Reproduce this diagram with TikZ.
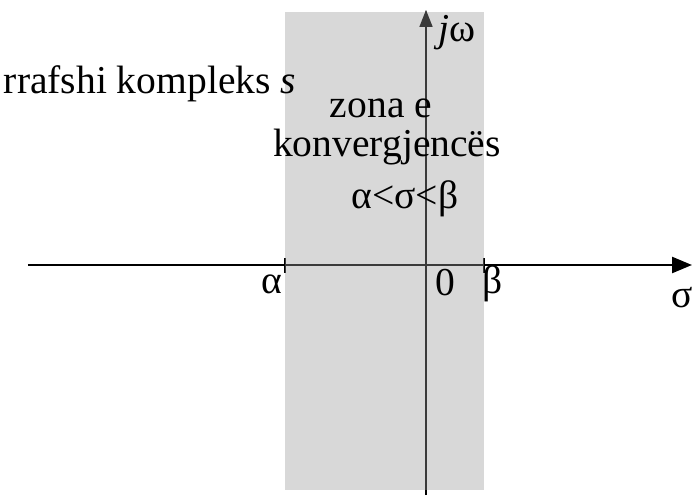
\documentclass[tikz,border=0pt]{standalone}
\usepackage{fontspec}
\setmainfont{Liberation Serif}
\usepackage{tikz}
\usetikzlibrary{arrows.meta,positioning,calc}
\definecolor{zone}{HTML}{999999}

\begin{document}
\begin{tikzpicture}[
  axe/.style={line width=1.4pt,-{Triangle[length=0.4cm,width=0.32cm]}},
  tick/.style={line width=0.8pt},
  lbl/.style={font=\fontsize{22.5}{26}\selectfont,inner sep=0pt,anchor=base}]
  \useasboundingbox (-8.52,-4.6) rectangle (5.34,5.3);
  % axes
  \coordinate (O) at (0,0);
  \coordinate (xg) at (-7.96,0);
  \coordinate (xd) at (5.32,0);
  \coordinate (yb) at (0,-4.6);
  \coordinate (yh) at (0,5.1);
  \draw[axe] (xg) -- (xd);
  \draw[axe,line width=1pt,-{Triangle[length=0.34cm,width=0.26cm]}] (yb) -- (yh);
  \coordinate (a) at (-2.82,0);
  \coordinate (b) at (1.16,0);
  \draw[tick] ($(a)+(0,-0.15)$) -- ($(a)+(0,0.15)$);
  \draw[tick] ($(b)+(0,-0.15)$) -- ($(b)+(0,0.15)$);
  % zone
  \fill[zone,opacity=0.38] (-2.82,-4.5) rectangle (1.16,5.06);
  % textes
  \node[lbl] (alpha) at (-3.08,-0.56) {α};
  \node[lbl] (zero) at (0.38,-0.6) {0};
  \node[lbl] (beta) at (1.34,-0.56) {β};
  \node[lbl] (sigma) at (5.12,-0.84) {σ};
  \node[lbl] (jw) at (0.62,4.46) {\textit{j}ω};
  \node[lbl] (plan) at (-5.52,3.42) {rrafshi kompleks \textit{s}};
  \node[lbl] (zona) at (-0.9,2.95) {zona e};
  \node[lbl] (konv) at (-0.78,2.17) {konvergjencës};
  \node[lbl] (cond) at (-0.42,1.14) {α<σ<β};
\end{tikzpicture}
\end{document}
